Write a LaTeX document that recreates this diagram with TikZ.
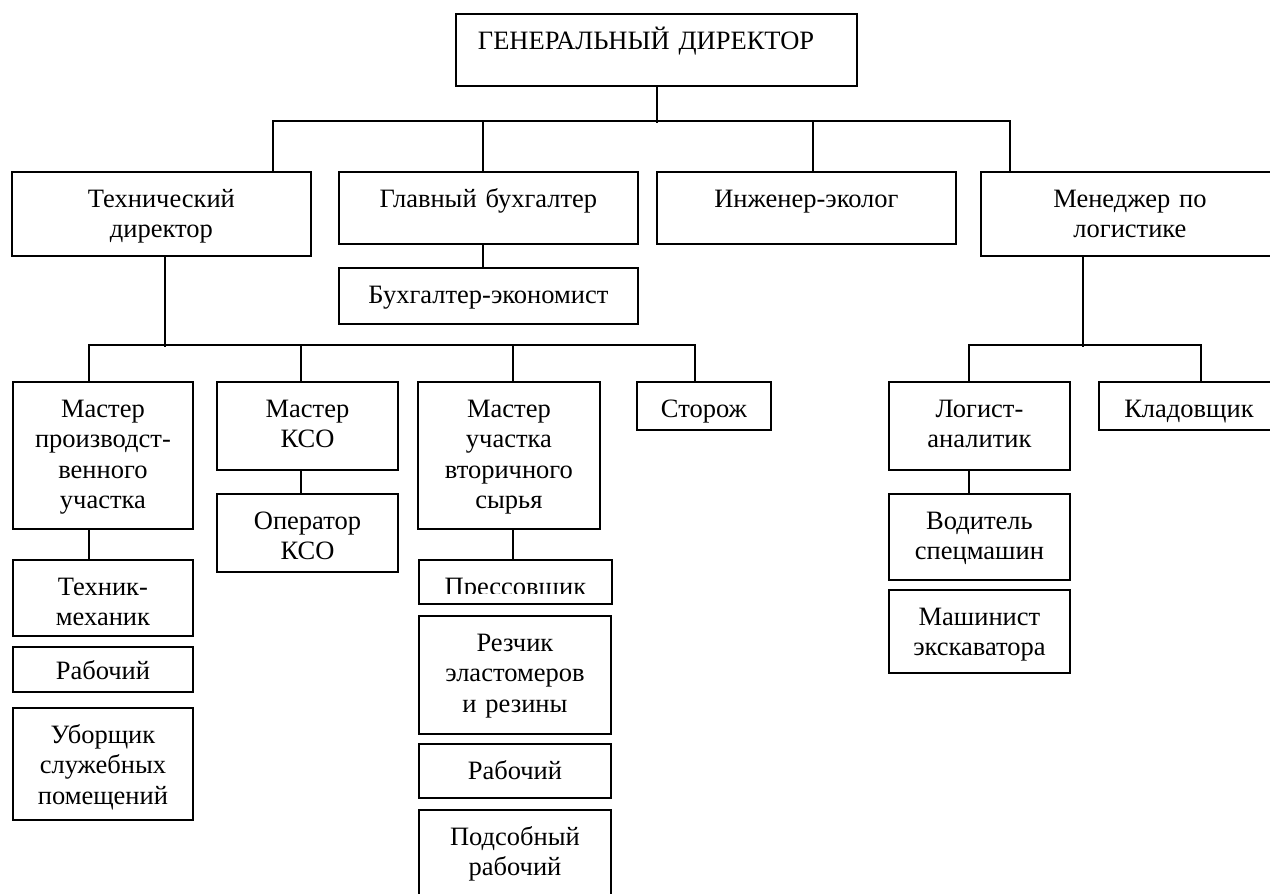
\documentclass[tikz,border=0pt]{standalone}
\usepackage{fontspec}
\setmainfont{Liberation Serif}
\usepackage{tikz}
\tikzset{
  post/.style={draw, anchor=north west, inner sep=0pt, align=center,
    text height=35.5pt, font=\fontsize{26.5}{30.5}\selectfont}
}

\begin{document}
\begin{tikzpicture}[x=1pt, y=-1pt, line width=1.9pt]
      \path[use as bounding box, clip] (0,0) rectangle (1270,894);
      \node[post, align=left, inner xsep=22pt, text width=357pt, text depth=36.5pt] (gen) at (455,13) {ГЕНЕРАЛЬНЫЙ ДИРЕКТОР};
      \node[post, text width=299pt, text depth=48.5pt] (tech) at (11,171) {Технический\\директор};
      \node[post, text width=299pt, text depth=36.5pt] (glav) at (338,171) {Главный бухгалтер};
      \node[post, text width=299pt, text depth=36.5pt] (inzh) at (656,171) {Инженер-эколог};
      \node[post, text width=298pt, text depth=48.5pt] (men) at (980,171) {Менеджер по\\логистике};
      \node[post, text width=299pt, text depth=20.5pt] (buhec) at (338,267) {Бухгалтер-экономист};
      \node[post, text width=180pt, text depth=111.5pt] (mproiz) at (12,381) {Мастер\\производст-\\венного\\участка};
      \node[post, text width=181pt, text depth=52.5pt] (mkso) at (216,381) {Мастер\\КСО};
      \node[post, text width=182pt, text depth=111.5pt] (mvtor) at (417,381) {Мастер\\участка\\вторичного\\сырья};
      \node[post, text width=134pt, text depth=12.5pt] (storozh) at (636,381) {Сторож};
      \node[post, text width=181pt, text depth=52.5pt] (logist) at (888,381) {Логист-\\аналитик};
      \node[post, text width=180pt, text depth=12.5pt] (klad) at (1098,381) {Кладовщик};
      \node[post, text width=181pt, text depth=42.5pt] (oper) at (216,493) {Оператор\\КСО};
      \node[post, text width=180pt, text depth=40.5pt] (tekhnik) at (12,559) {Техник-\\механик};
      \node[post, text width=193pt, text depth=8.5pt] (pres) at (418,559) {};
      \begin{scope}
        \clip (pres.north west) rectangle ([yshift=11pt]pres.south east);
        \node[post, draw=none, text width=193pt, text depth=8.5pt] (preslabel) at (418,559) {Прессовщик};
      \end{scope}
      \node[post, text width=181pt, text depth=50.5pt] (voditel) at (888,493) {Водитель\\спецмашин};
      \node[post, text width=181pt, text depth=47.5pt] (mashin) at (888,589) {Машинист\\экскаватора};
      \node[post, text width=180pt, text height=33pt, text depth=12pt] (rab1) at (12,646) {Рабочий};
      \node[post, text width=180pt, text depth=76.5pt] (uborsh) at (12,707) {Уборщик\\служебных\\помещений};
      \node[post, text width=192pt, text depth=82.5pt] (rezchik) at (418,615) {Резчик\\эластомеров\\и резины};
      \node[post, text width=192pt, text depth=18.5pt] (rab2) at (418,743) {Рабочий};
      \node[post, text width=192pt, text depth=53.5pt] (podsob) at (418,809) {Подсобный\\рабочий};

      \draw ([xshift=0.5pt]gen.south) -- ++(0,36);
      \draw ([xshift=111.5pt]tech.north) -- ++(0,-50) -| ([xshift=-120pt]men.north);
      \draw ([xshift=-5.5pt]glav.north) -- ++(0,-50);
      \draw ([xshift=6.5pt]inzh.north) -- ++(0,-50);
      \draw ([xshift=-5.5pt]glav.south) -- ([xshift=-5.5pt]buhec.north);

      \draw ([xshift=3.5pt]tech.south) -- ++(0,90);
      \draw ([xshift=-14pt]mproiz.north) -- ++(0,-36) -| ([xshift=-9pt]storozh.north);
      \draw ([xshift=-6.5pt]mkso.north) -- ++(0,-36);
      \draw ([xshift=4pt]mvtor.north) -- ++(0,-36);
      \draw ([xshift=-14pt]mproiz.south) -- ([xshift=-14pt]tekhnik.north);
      \draw ([xshift=-6.5pt]mkso.south) -- ([xshift=-6.5pt]oper.north);
      \draw ([xshift=4pt]mvtor.south) -- ([xshift=-2.5pt]pres.north);

      \draw ([xshift=-47pt]men.south) -- ++(0,90);
      \draw ([xshift=-10.5pt]logist.north) -- ++(0,-36) -| ([xshift=12pt]klad.north);
      \draw ([xshift=-10.5pt]logist.south) -- ([xshift=-10.5pt]voditel.north);
    \end{tikzpicture}
\end{document}
